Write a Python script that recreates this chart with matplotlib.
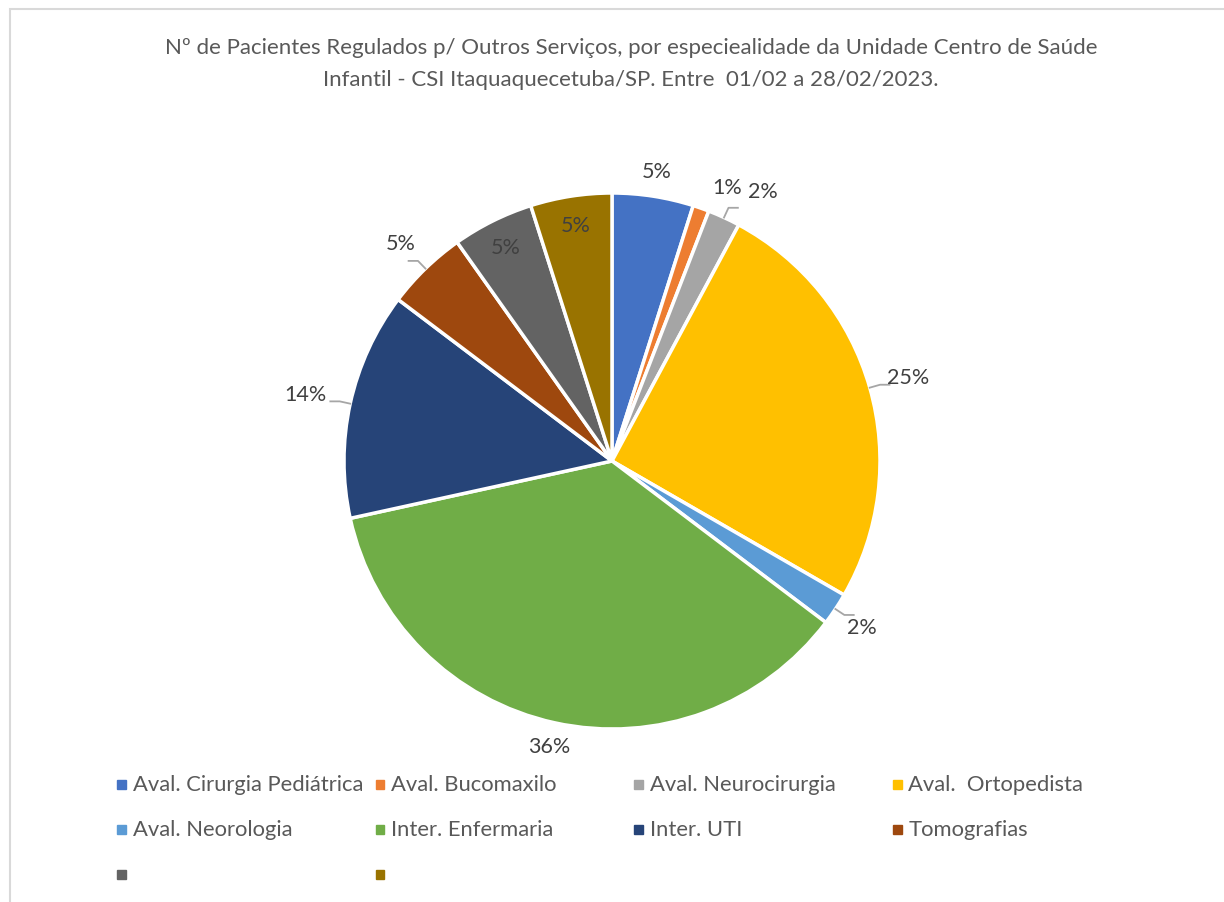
import matplotlib.pyplot as plt
import numpy as np
from matplotlib.patches import Rectangle

plt.rcParams['font.family'] = ['Lato', 'DejaVu Sans']

categorias = ['Aval. Cirurgia Pediátrica', 'Aval. Bucomaxilo', 'Aval. Neurocirurgia',
              'Aval.  Ortopedista', 'Aval. Neorologia', 'Inter. Enfermaria',
              'Inter. UTI', 'Tomografias', '', '']
pacientes = [5, 1, 2, 26, 2, 37, 14, 5, 5, 5]
cores = ['#4472C4', '#ED7D31', '#A5A5A5', '#FFC000', '#5B9BD5', '#70AD47',
         '#264478', '#9E480E', '#636363', '#997300']

# label placement (radius factor, angle shift in degrees, leader line?)
lab_r = [1.095, 1.11, 1.155, 1.15, 1.12, 1.09, 1.17, 1.135, 0.89, 0.89]
lab_da = [0, 3.3, 4.5, 0, 0, 0, 0, 0, 0, 0]
leader = [False, False, True, True, True, False, True, True, False, False]

W, H = 1224, 903
fig = plt.figure(figsize=(W / 100, H / 100), dpi=100)

# outer border of the chart area
fig.patches.append(Rectangle((10 / W, -0.1), 1.2, 1 - 10 / H + 0.1, transform=fig.transFigure,
                             fill=False, edgecolor='#d9d9d9', linewidth=1.5))

cx, cy, R = 612, 462, 268
ax = fig.add_axes([(cx - R) / W, (H - cy - R) / H, 2 * R / W, 2 * R / H])
wedges, _ = ax.pie(pacientes, colors=cores, startangle=90, counterclock=False,
                   wedgeprops=dict(edgecolor='white', linewidth=2.5))
ax.set_xlim(-1, 1)
ax.set_ylim(-1, 1)
ax.set_aspect('equal')
ax.axis('off')

tot = float(sum(pacientes))
cum = np.cumsum([0] + pacientes)
for i, v in enumerate(pacientes):
    mid = (cum[i] + cum[i + 1]) / 2 / tot * 360
    a = np.deg2rad(90 - mid - lab_da[i])
    x, y = lab_r[i] * np.cos(a), lab_r[i] * np.sin(a)
    ax.text(x, y, '%d%%' % round(100 * v / tot), ha='center', va='center',
            fontsize=15.5, color='#404040', clip_on=False)
    if leader[i]:
        am = np.deg2rad(90 - mid)
        x0, y0 = 1.0 * np.cos(am), 1.0 * np.sin(am)
        x1, y1 = 1.04 * np.cos(am), 1.04 * np.sin(am)
        side = 1 if np.cos(am) > 0 else -1
        ax.plot([x0, x1, x1 + side * 0.035], [y0, y1, y1], color='#a6a6a6',
                linewidth=1.3, clip_on=False)

fig.text(631 / W, 1 - 48 / H, 'Nº de Pacientes Regulados p/ Outros Serviços, por especiealidade da Unidade Centro de Saúde',
         ha='center', va='center', fontsize=16, color='#595959')
fig.text(631 / W, 1 - 80 / H, 'Infantil - CSI Itaquaquecetuba/SP. Entre  01/02 a 28/02/2023.',
         ha='center', va='center', fontsize=16, color='#595959')

# legend, 4 columns in row order
for i, lab in enumerate(categorias):
    r, c = divmod(i, 4)
    x = 117 + c * 258.5
    y = 785 + r * 45
    fig.patches.append(Rectangle((x / W, 1 - (y + 4.5) / H), 9 / W, 9 / H,
                                 transform=fig.transFigure, color=cores[i]))
    fig.text((x + 16) / W, 1 - y / H, lab, ha='left', va='center',
             fontsize=15.8, color='#595959')

fig.savefig('out.png', dpi=100)
